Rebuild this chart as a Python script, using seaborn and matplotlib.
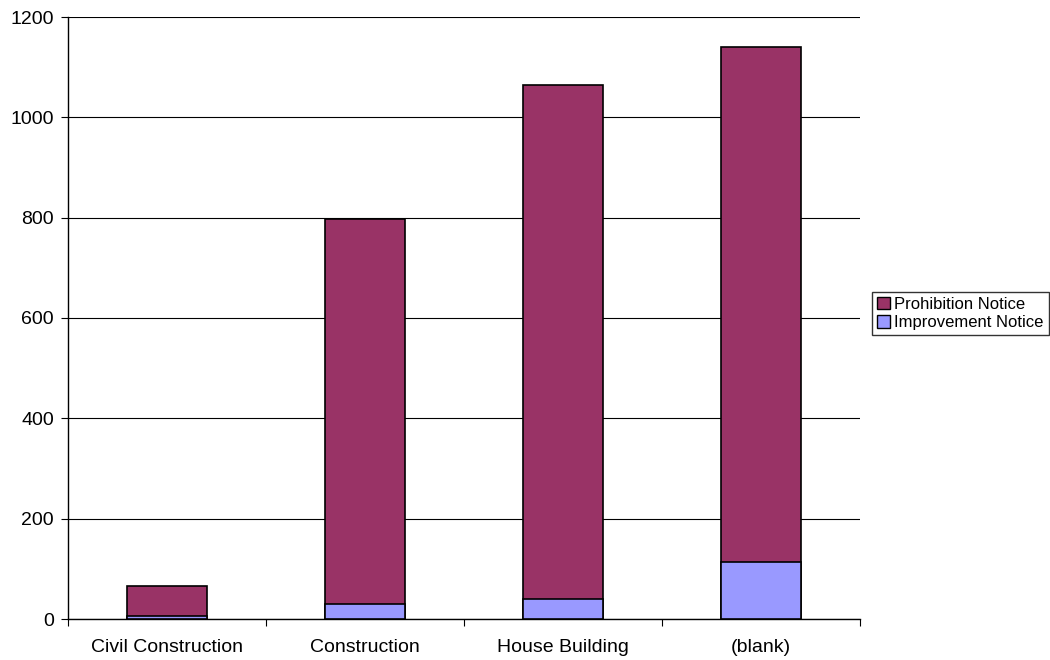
import pandas as pd
import matplotlib.pyplot as plt
import seaborn as sns
import numpy as np
from matplotlib.patches import Patch

# values
categories = ['Civil Construction', 'Construction', 'House Building', '(blank)']
improvement = [5, 29, 40, 113]
prohibition = [61, 768, 1024, 1027]

df = pd.DataFrame({'Category': categories,
                   'Improvement Notice': improvement,
                   'Prohibition Notice': prohibition})
df['Total'] = df['Improvement Notice'] + df['Prohibition Notice']

sns.set_style('white')
plt.rcParams['font.family'] = ['Liberation Sans', 'DejaVu Sans']
plt.rcParams['text.color'] = 'black'
plt.rcParams['xtick.color'] = 'black'
plt.rcParams['ytick.color'] = 'black'

fig = plt.figure(figsize=(10.5, 6.6), dpi=100)
ax = fig.add_axes([68/1050, 1 - 619/660, (860-68)/1050, (619-17)/660])

# stacked bars: total first (prohibition colour), improvement drawn over it
sns.barplot(data=df, x='Category', y='Total', color='#993366', width=0.4,
            edgecolor='black', linewidth=1.2, saturation=1, ax=ax, zorder=3)
sns.barplot(data=df, x='Category', y='Improvement Notice', color='#9999FF', width=0.4,
            edgecolor='black', linewidth=1.2, saturation=1, ax=ax, zorder=4)

ax.set_ylim(0, 1200)
ax.set_xlim(-0.5, 3.5)
ax.set_yticks(np.arange(0, 1201, 200))
ax.yaxis.grid(True, color='black', linewidth=0.8)
ax.set_axisbelow(True)
ax.set_xlabel('')
ax.set_ylabel('')

for s in ['top', 'right']:
    ax.spines[s].set_visible(False)
for s in ['left', 'bottom']:
    ax.spines[s].set_color('black')
    ax.spines[s].set_linewidth(1.0)

ax.tick_params(axis='y', which='major', left=True, length=5, width=0.8, color='black',
               labelcolor='black', labelsize=14, pad=5)
ax.tick_params(axis='x', which='major', bottom=False, labelcolor='black', labelsize=14, pad=11)
ax.set_xticks(np.arange(-0.5, 4, 1), minor=True)
ax.tick_params(axis='x', which='minor', bottom=True, length=5, width=0.8, color='black')

handles = [Patch(facecolor='#993366', edgecolor='black', label='Prohibition Notice'),
           Patch(facecolor='#9999FF', edgecolor='black', label='Improvement Notice')]
leg = fig.legend(handles=handles, loc='upper left', bbox_to_anchor=(872/1050, 1 - 292/660),
                 frameon=True, fancybox=False, fontsize=12, handlelength=0.75, handleheight=0.75,
                 handletextpad=0.3, borderpad=0.3, labelspacing=0.2, borderaxespad=0,
                 labelcolor='black')
leg.get_frame().set_edgecolor('black')
leg.get_frame().set_linewidth(1.0)

fig.savefig('out.png', dpi=100)
